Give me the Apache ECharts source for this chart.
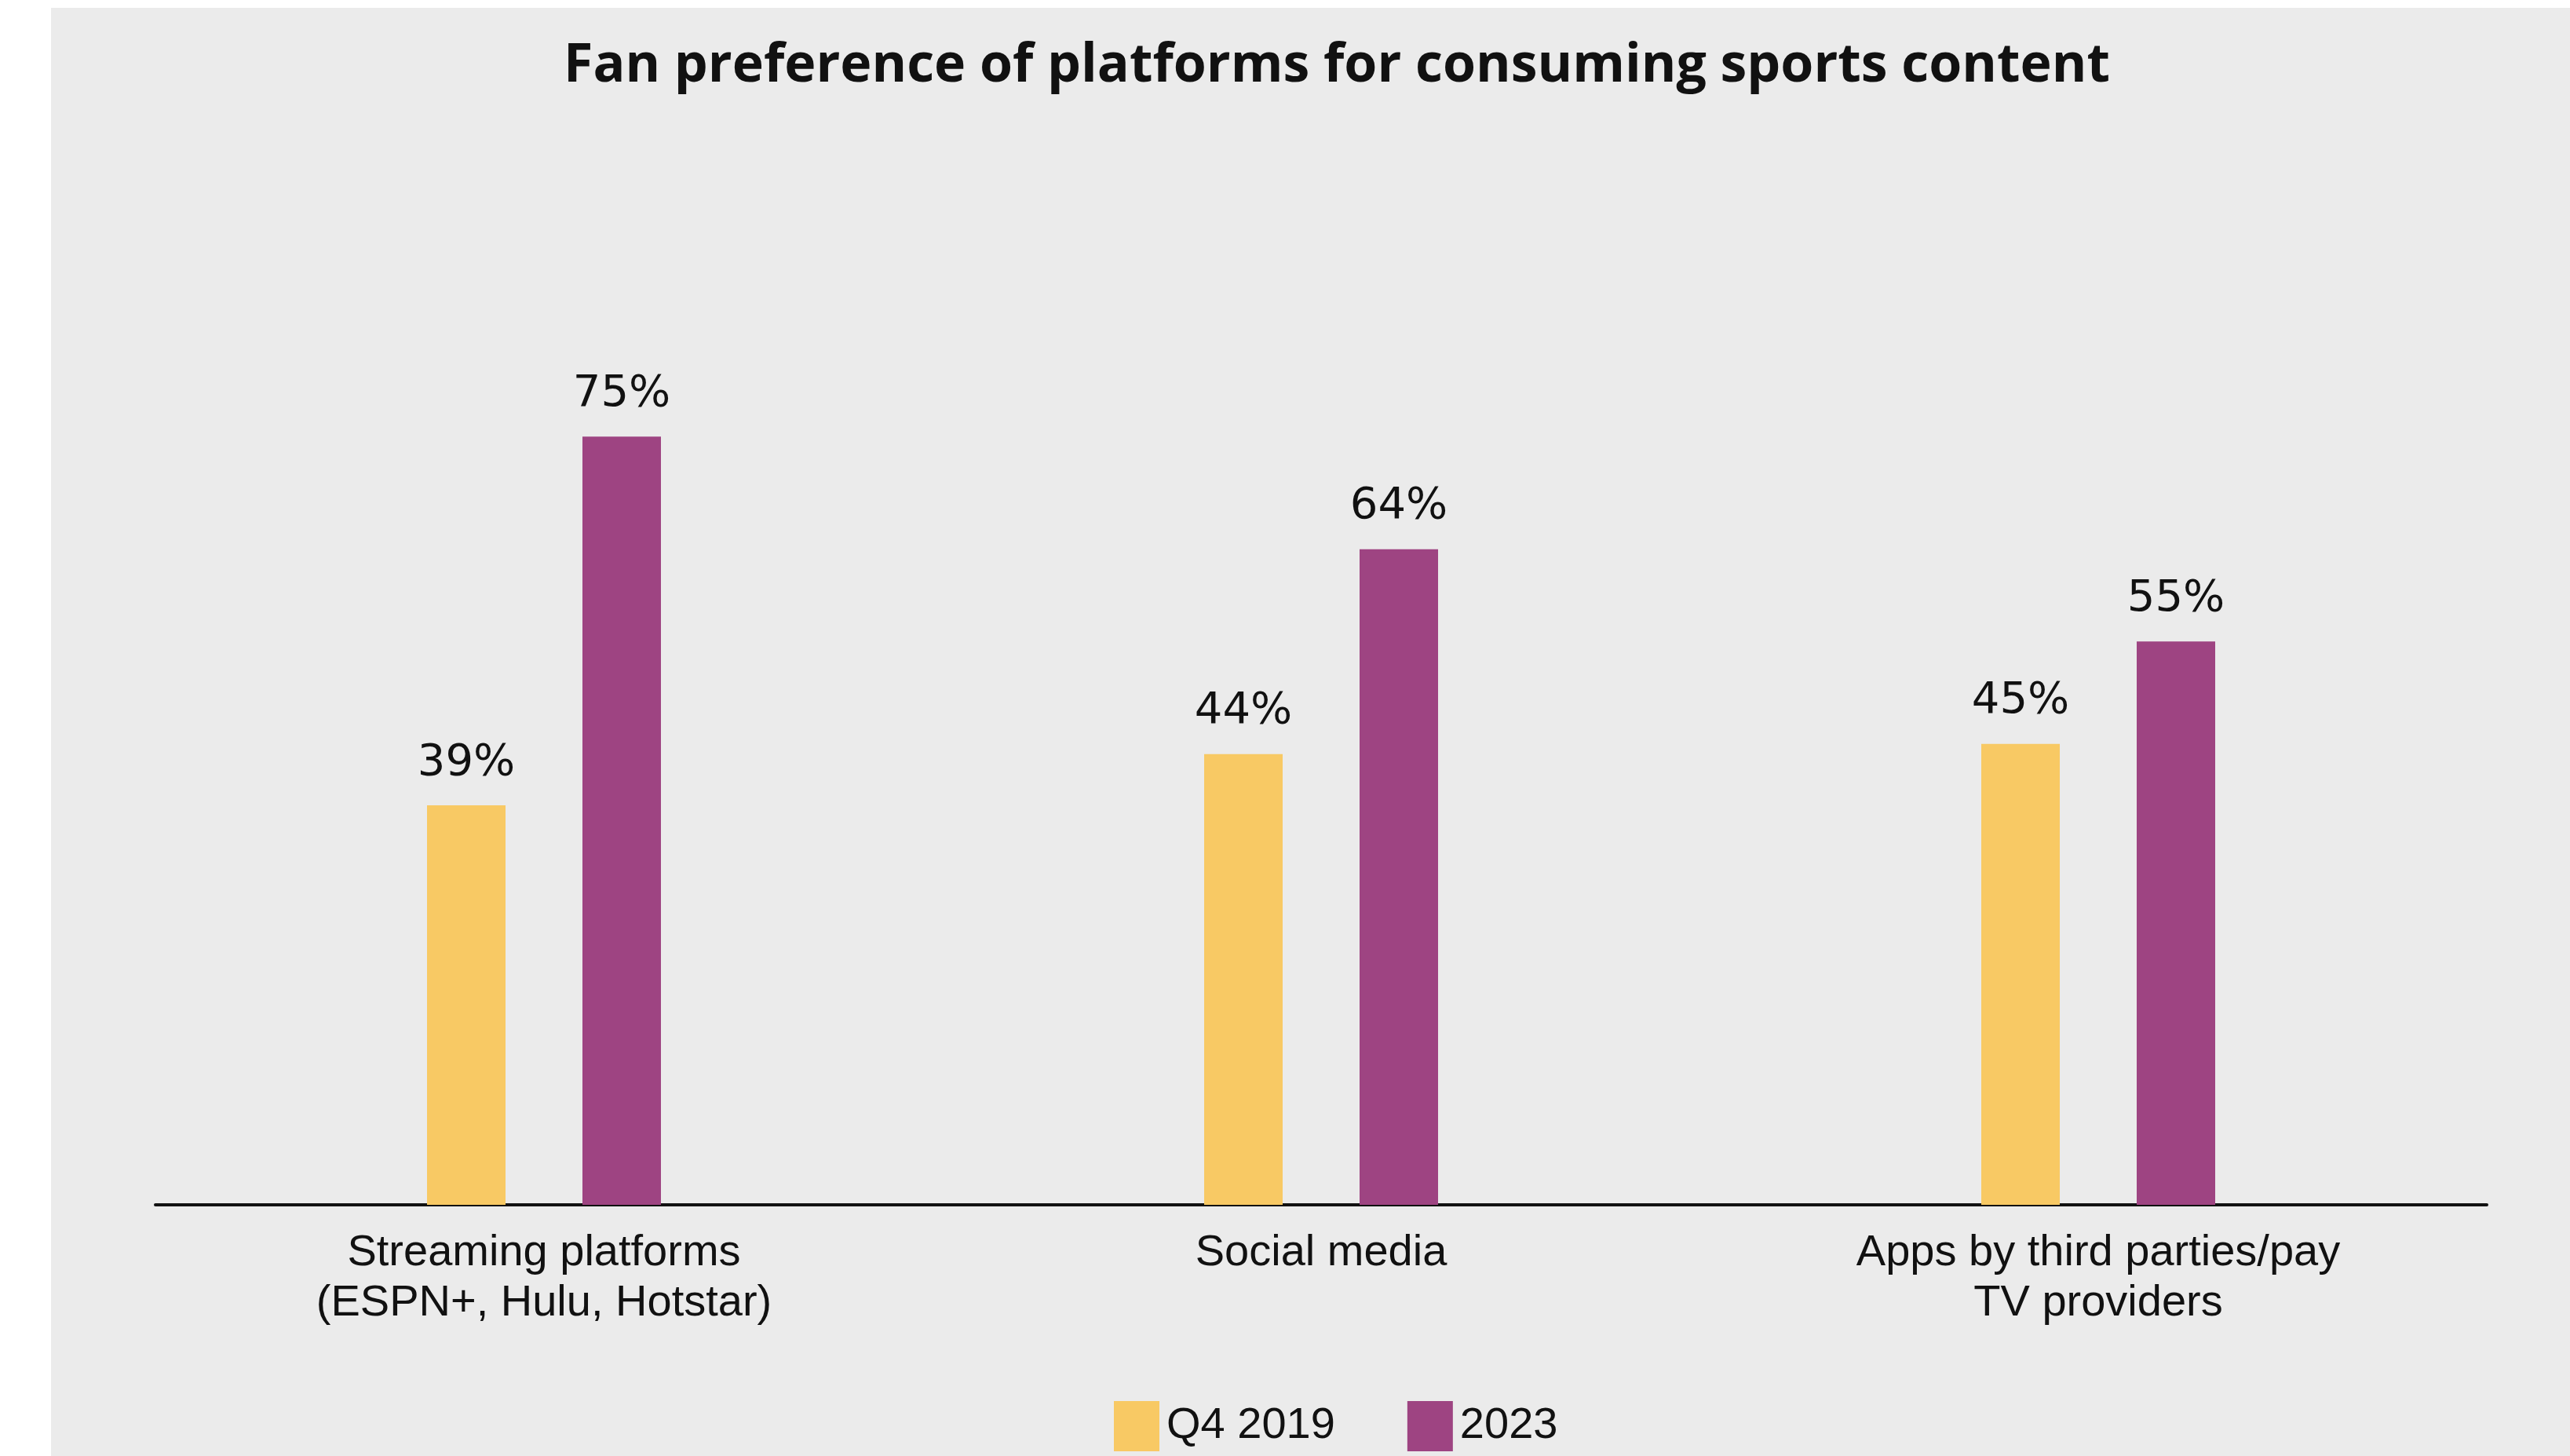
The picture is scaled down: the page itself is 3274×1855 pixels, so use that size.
<!DOCTYPE html>
<html>
<head>
<meta charset="utf-8">
<script src="https://cdn.jsdelivr.net/npm/echarts@6/dist/echarts.min.js"></script>
<style>
  html, body { margin: 0; padding: 0; background: #ffffff; width: 3274px; height: 1855px; overflow: hidden; }
  #chart { position: absolute; left: 65px; top: 10px; width: 3209px; height: 1845px; }
</style>
</head>
<body>
<div id="chart"></div>
<script>
// Platform categories and survey shares (%)
const categories = [
  'Streaming platforms\n(ESPN+, Hulu, Hotstar)',
  'Social media',
  'Apps by third parties/pay\nTV providers'
];
const seriesNames = ['Q4 2019', '2023'];
const valuesQ42019 = [39, 44, 45];
const values2023 = [75, 64, 55];
const seriesColors = ['#F8C964', '#9E4482'];

const labelFont = '"DejaVu Sans", Verdana, sans-serif';
const textFont = '"Liberation Sans", Arial, sans-serif';

const chart = echarts.init(document.getElementById('chart'));

function barSeries(name, data, color) {
  return {
    name: name,
    type: 'bar',
    data: data,
    barWidth: 100,
    barGap: '98%',
    itemStyle: { color: color },
    label: {
      show: true,
      position: 'top',
      distance: 26,
      formatter: '{c}%',
      color: '#111111',
      fontFamily: labelFont,
      fontSize: 56
    }
  };
}

chart.setOption({
  backgroundColor: '#ebebeb',
  animation: false,
  title: {
    text: 'Fan preference of platforms for consuming sports content',
    left: 1633,
    top: 36,
    textAlign: 'center',
    textStyle: {
      fontFamily: '"Open Sans", "Noto Sans", sans-serif',
      fontWeight: 'bold',
      fontSize: 68,
      color: '#111111'
    }
  },
  legend: {
    data: seriesNames,
    left: 1349,
    top: 1770,
    itemWidth: 58,
    itemHeight: 64,
    itemGap: 92,
    icon: 'rect',
    textStyle: {
      fontFamily: textFont,
      fontSize: 56,
      color: '#111111',
      padding: [0, 0, 0, 4]
    }
  },
  grid: {
    left: 133,
    right: 106,
    top: 220,
    bottom: 320,
    containLabel: false
  },
  xAxis: {
    type: 'category',
    data: categories,
    axisLine: { show: true, lineStyle: { color: '#111111', width: 4 } },
    axisTick: { show: false },
    axisLabel: {
      margin: 30,
      color: '#111111',
      fontFamily: textFont,
      fontSize: 56,
      lineHeight: 64,
      interval: 0
    }
  },
  yAxis: {
    type: 'value',
    min: 0,
    max: 100,
    show: false,
    splitLine: { show: false }
  },
  series: [
    barSeries(seriesNames[0], valuesQ42019, seriesColors[0]),
    barSeries(seriesNames[1], values2023, seriesColors[1])
  ]
});
</script>
</body>
</html>
